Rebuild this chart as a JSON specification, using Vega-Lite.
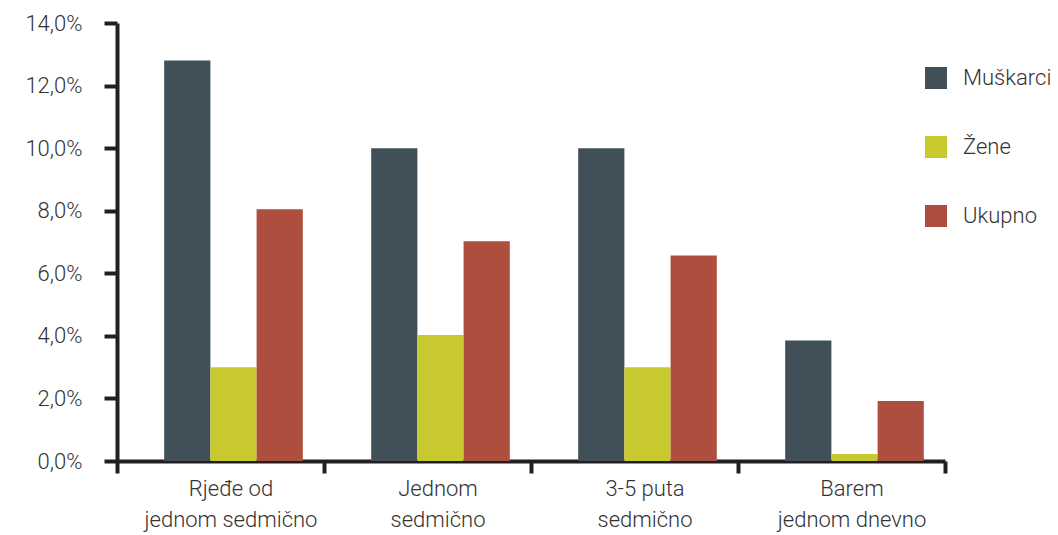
{
  "$schema": "https://vega.github.io/schema/vega-lite/v6.json",
  "autosize": {"type": "none"},
  "padding": {"left": 117, "top": 23, "right": 113, "bottom": 74},
  "width": 828,
  "height": 438,
  "background": "white",
  "data": {
    "values": [
      {"kategorija": "Rjeđe od\njednom sedmično", "pol": "Muškarci", "udio": 0.128},
      {"kategorija": "Rjeđe od\njednom sedmično", "pol": "Žene", "udio": 0.030},
      {"kategorija": "Rjeđe od\njednom sedmično", "pol": "Ukupno", "udio": 0.0805},
      {"kategorija": "Jednom\nsedmično", "pol": "Muškarci", "udio": 0.100},
      {"kategorija": "Jednom\nsedmično", "pol": "Žene", "udio": 0.0403},
      {"kategorija": "Jednom\nsedmično", "pol": "Ukupno", "udio": 0.0702},
      {"kategorija": "3-5 puta\nsedmično", "pol": "Muškarci", "udio": 0.100},
      {"kategorija": "3-5 puta\nsedmično", "pol": "Žene", "udio": 0.030},
      {"kategorija": "3-5 puta\nsedmično", "pol": "Ukupno", "udio": 0.0657},
      {"kategorija": "Barem\njednom dnevno", "pol": "Muškarci", "udio": 0.0385},
      {"kategorija": "Barem\njednom dnevno", "pol": "Žene", "udio": 0.0022},
      {"kategorija": "Barem\njednom dnevno", "pol": "Ukupno", "udio": 0.0192}
    ]
  },
  "mark": {"type": "bar"},
  "encoding": {
    "x": {
      "field": "kategorija",
      "type": "nominal",
      "sort": null,
      "scale": {"paddingInner": 0, "paddingOuter": 0},
      "axis": {
        "title": null,
        "labelAngle": 0,
        "labelExpr": "datum.value ? split(datum.value, '\\n') : ''",
        "tickBand": "extent",
        "tickSize": 12,
        "tickWidth": 4,
        "tickColor": "#231f20",
        "domainWidth": 4,
        "domainColor": "#231f20",
        "labelPadding": 5,
        "labelOffset": 10,
        "labelLineHeight": 31,
        "labelFontSize": 22,
        "labelColor": "#333333"
      }
    },
    "xOffset": {
      "field": "pol",
      "type": "nominal",
      "sort": ["Muškarci", "Žene", "Ukupno"],
      "scale": {"paddingInner": 0, "paddingOuter": 0.74, "align": 0.69}
    },
    "y": {
      "field": "udio",
      "type": "quantitative",
      "scale": {"domain": [0, 0.14], "nice": false},
      "axis": {
        "title": null,
        "values": [0, 0.02, 0.04, 0.06, 0.08, 0.1, 0.12, 0.14],
        "labelExpr": "replace(format(datum.value, '.1%'), '.', ',')",
        "grid": false,
        "tickSize": 13,
        "tickWidth": 4,
        "tickColor": "#231f20",
        "domainWidth": 4,
        "domainColor": "#231f20",
        "labelPadding": 22,
        "labelFontSize": 22,
        "labelColor": "#333333"
      }
    },
    "color": {
      "field": "pol",
      "type": "nominal",
      "sort": ["Muškarci", "Žene", "Ukupno"],
      "scale": {"domain": ["Muškarci", "Žene", "Ukupno"], "range": ["#414f59", "#c8c92f", "#ae4e3f"]},
      "legend": {
        "title": null,
        "orient": "none",
        "legendX": 808,
        "legendY": 44,
        "symbolType": "square",
        "symbolSize": 484,
        "symbolStrokeWidth": 0,
        "rowPadding": 47,
        "labelFontSize": 22,
        "labelColor": "#333333",
        "labelOffset": 16
      }
    }
  },
  "config": {
    "font": "Roboto",
    "view": {"stroke": null},
    "axis": {"labelFont": "Roboto", "labelFontWeight": 300},
    "legend": {"labelFont": "Roboto", "labelFontWeight": 300}
  }
}
